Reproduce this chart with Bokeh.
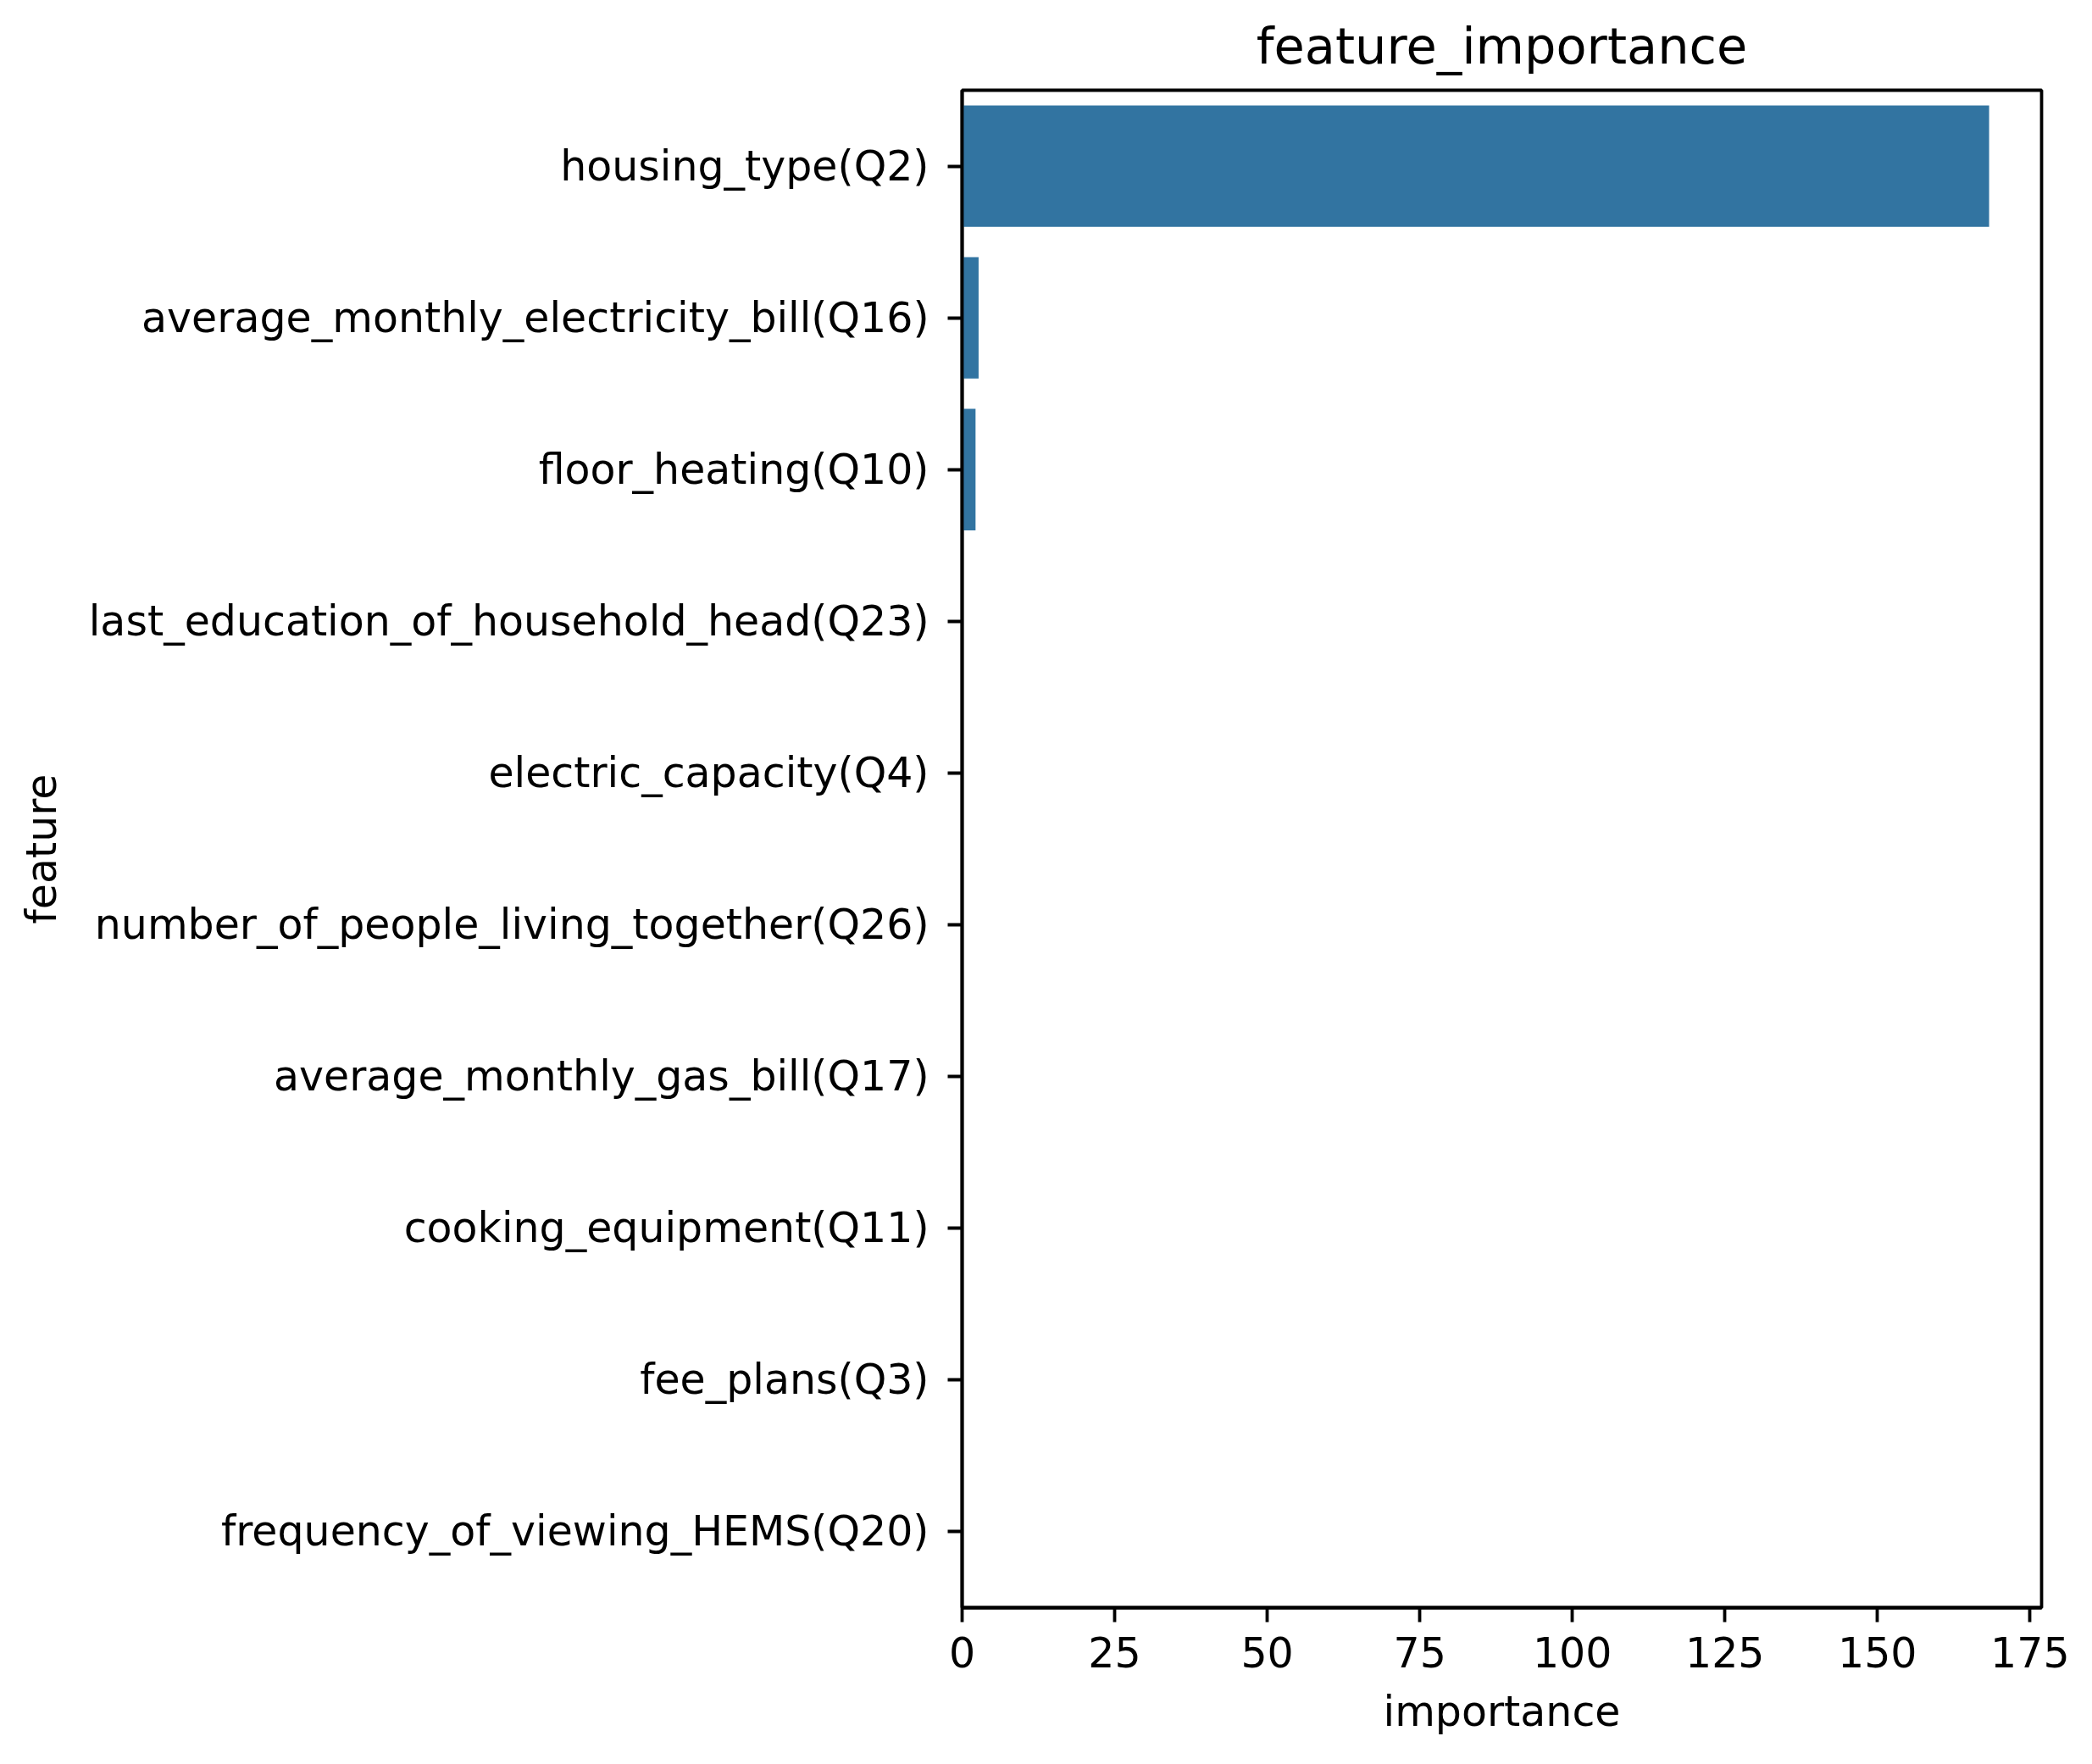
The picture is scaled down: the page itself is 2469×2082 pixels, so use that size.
from bokeh.plotting import figure
from bokeh.models import FactorRange, Range1d, FixedTicker, ColumnDataSource
from bokeh.embed import file_html
from bokeh.resources import INLINE

features = [
    "housing_type(Q2)",
    "average_monthly_electricity_bill(Q16)",
    "floor_heating(Q10)",
    "last_education_of_household_head(Q23)",
    "electric_capacity(Q4)",
    "number_of_people_living_together(Q26)",
    "average_monthly_gas_bill(Q17)",
    "cooking_equipment(Q11)",
    "fee_plans(Q3)",
    "frequency_of_viewing_HEMS(Q20)",
]
importance = [168.3, 2.7, 2.2, 0.0, 0.0, 0.0, 0.0, 0.0, 0.0, 0.0]
x_ticks = [0, 25, 50, 75, 100, 125, 150, 175]

FONT = "DejaVu Sans"
src = ColumnDataSource(dict(feature=features, importance=importance))

p = figure(
    width=2458, height=2068,
    y_range=FactorRange(factors=list(reversed(features)), range_padding=0),
    x_range=Range1d(0, 176.9),
    output_backend="svg", toolbar_location=None,
    min_border_left=1135, min_border_right=49,
    min_border_top=106, min_border_bottom=171,
    title="feature_importance",
)
p.hbar(y="feature", right="importance", left=0, height=0.8, source=src,
       fill_color="#3274a1", line_color=None)

p.title.align = "center"
p.title.vertical_align = "middle"
p.title.text_font = FONT
p.title.text_font_size = "59px"
p.title.text_font_style = "normal"
p.title.text_color = "black"
p.title.standoff = 33

p.xgrid.visible = False
p.ygrid.visible = False
p.outline_line_color = "black"
p.outline_line_width = 3.8
p.outline_line_alpha = 1.0

p.xaxis.ticker = FixedTicker(ticks=x_ticks)
p.xaxis.axis_label = "importance"
p.yaxis.axis_label = "feature"
for ax in (p.xaxis, p.yaxis):
    ax.axis_line_color = "black"
    ax.axis_line_width = 3.8
    ax.major_tick_line_color = "black"
    ax.major_tick_line_width = 3.8
    ax.major_tick_out = 17
    ax.major_tick_in = 0
    ax.minor_tick_line_color = None
    ax.major_label_text_font = FONT
    ax.major_label_text_font_size = "49px"
    ax.major_label_text_color = "black"
    ax.axis_label_text_font = FONT
    ax.axis_label_text_font_size = "49px"
    ax.axis_label_text_font_style = "normal"
    ax.axis_label_text_color = "black"
p.xaxis.major_label_standoff = 17
p.yaxis.major_label_standoff = 22
p.xaxis.axis_label_standoff = 21
p.yaxis.axis_label_standoff = 24

open("out.html", "w").write(file_html(p, INLINE))
